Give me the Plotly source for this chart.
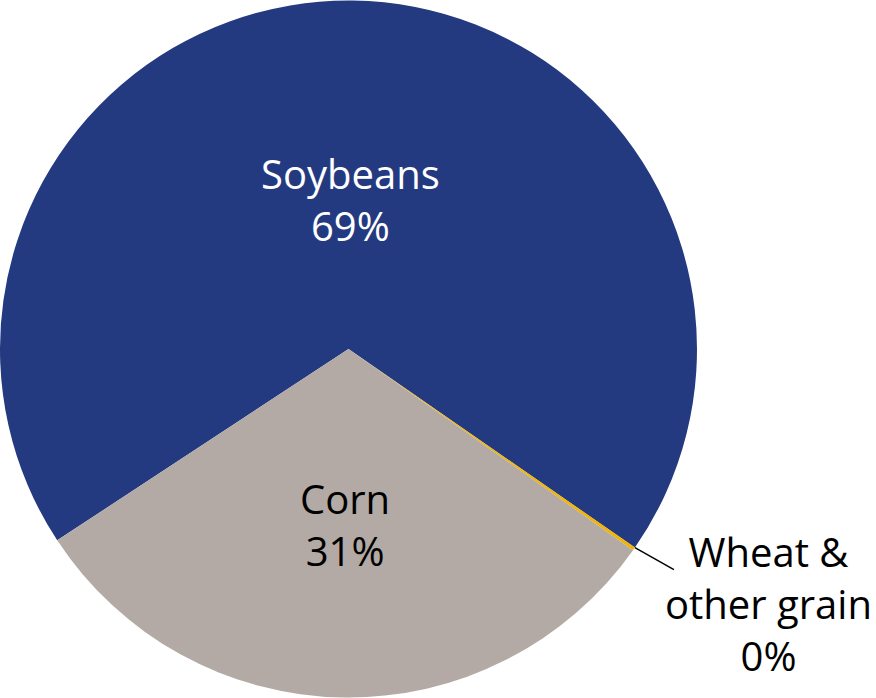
import numpy as np
import plotly.graph_objects as go

# crop shares of exports (percent)
labels = ['Soybeans', 'Wheat &<br>other grain', 'Corn']
values = [69, 0.15, 31]
shown = ['69%', '0%', '31%']
colors = ['#243A80', '#F2B400', '#B3A9A5']
text_colors = ['white', 'black', 'black']
label_radius = [0.43, None, 0.505]  # inside labels, share of radius

W, H = 876, 698
pie_w = 697  # pixel width of pie domain
FONT = 'Open Sans'
ROT = 236.7

fig = go.Figure(go.Pie(
    labels=labels,
    values=values,
    sort=False,
    direction='clockwise',
    rotation=ROT,
    marker=dict(colors=colors, line=dict(width=0)),
    textinfo='none',
    hoverinfo='skip',
    showlegend=False,
    domain=dict(x=[0, pie_w / W], y=[0, 1]),
))

cx, cy, r = pie_w / 2, H / 2, min(pie_w, H) / 2
total = sum(values)
start = ROT
for lab, v, s, c, lr in zip(labels, values, shown, text_colors, label_radius):
    span = v / total * 360
    if lr is not None:
        mid = np.deg2rad(start + span / 2)
        px = cx + lr * r * np.sin(mid)
        py = cy - lr * r * np.cos(mid)
        fig.add_annotation(xref='paper', yref='paper', x=px / W, y=1 - py / H,
                           xanchor='center', yanchor='middle',
                           text=lab + '<br>' + s, showarrow=False,
                           font=dict(size=40, family=FONT, color=c))
    start += span

# leader line for the tiny wheat slice, from the slice edge outward
ang = np.deg2rad(ROT + values[0] / total * 360)
x0 = cx + r * np.sin(ang)
y0 = cy - r * np.cos(ang)
fig.add_shape(type='line', xref='paper', yref='paper',
              x0=x0 / W, y0=1 - y0 / H,
              x1=(x0 + 39) / W, y1=1 - (y0 + 22) / H,
              line=dict(color='black', width=1.5))
fig.add_annotation(xref='paper', yref='paper', x=768 / W, y=1 - 603 / H,
                   xanchor='center', yanchor='middle',
                   text=labels[1] + '<br>' + shown[1], showarrow=False,
                   font=dict(size=40, family=FONT, color='black'),
                   align='center')

fig.update_layout(width=W, height=H, margin=dict(l=0, r=0, t=0, b=0),
                  paper_bgcolor='white', plot_bgcolor='white')
fig.write_html('out.html', config={'displayModeBar': False},
               post_script="document.body.style.margin='0';")
